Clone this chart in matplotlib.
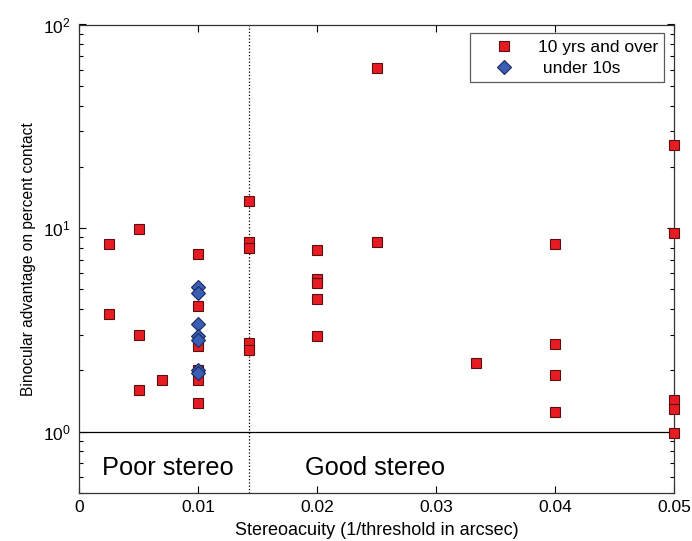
import matplotlib
matplotlib.use("Agg")
import matplotlib.pyplot as plt
from matplotlib.ticker import LogLocator, NullFormatter

plt.rcParams['font.family'] = ['Liberation Sans', 'DejaVu Sans']
plt.rcParams['mathtext.fontset'] = 'custom'
plt.rcParams['mathtext.rm'] = 'Liberation Sans'
plt.rcParams['mathtext.it'] = 'Liberation Sans:italic'
plt.rcParams['mathtext.bf'] = 'Liberation Sans:bold'

# 10 yrs and over (red squares)
older_x = [0.0025, 0.0025,
           0.005, 0.005, 0.005,
           0.007,
           0.01, 0.01, 0.01, 0.01, 0.01, 0.01, 0.01,
           1/70, 1/70, 1/70, 1/70, 1/70,
           0.02, 0.02, 0.02, 0.02, 0.02,
           0.025, 0.025,
           1/30,
           0.04, 0.04, 0.04, 0.04,
           0.05, 0.05, 0.05, 0.05, 0.05]
older_y = [8.38, 3.77,
           9.85, 3.0, 1.61,
           1.79,
           7.5, 4.14, 2.8, 2.63, 2.02, 1.8, 1.39,
           13.6, 8.54, 8.01, 2.74, 2.52,
           7.77, 5.6, 5.39, 4.5, 2.95,
           61.4, 8.58,
           2.18,
           8.35, 2.71, 1.89, 1.25,
           25.6, 9.5, 1.43, 1.29, 0.99]

# under 10s (blue diamonds)
young_x = [0.01, 0.01, 0.01, 0.01, 0.01, 0.01, 0.01]
young_y = [5.15, 4.78, 3.37, 2.95, 2.82, 2.0, 1.95]

cutoff = 1/70
xticks = [0, 0.01, 0.02, 0.03, 0.04, 0.05]
xticklabels = ["0", "0.01", "0.02", "0.03", "0.04", "0.05"]

fig = plt.figure(figsize=(6.92, 5.41), dpi=100)
ax = fig.add_axes([79/692, 1-493/541, (674-79)/692, (493-24.5)/541])

ax.set_yscale('log')
ax.set_xlim(0, 0.05)
ax.set_ylim(0.5, 100)

ax.axvline(cutoff, color='black', linestyle=':', linewidth=0.9, zorder=1)
ax.axhline(1.0, color='black', linestyle='-', linewidth=0.9, zorder=1)

ax.plot(older_x, older_y, linestyle='none', marker='s', markersize=7.3,
        markerfacecolor='#e61c22', markeredgecolor='#5a1010', markeredgewidth=0.8,
        label='10 yrs and over', zorder=3, clip_on=False)
ax.plot(young_x, young_y, linestyle='none', marker='D', markersize=6.8,
        markerfacecolor='#3a5db5', markeredgecolor='#1a2a60', markeredgewidth=0.8,
        label=' under 10s', zorder=4, clip_on=False)

ax.set_xticks(xticks)
ax.set_xticklabels(xticklabels)
ax.yaxis.set_major_locator(LogLocator(base=10))
ax.yaxis.set_minor_locator(LogLocator(base=10, subs=range(2, 10)))
ax.yaxis.set_minor_formatter(NullFormatter())

ax.tick_params(axis='both', which='major', direction='in', length=5, width=0.8,
               top=True, right=True, labelsize=12.5)
ax.tick_params(axis='x', which='major', pad=5)
ax.tick_params(axis='y', which='major', pad=6)
ax.tick_params(axis='y', which='minor', direction='in', length=3, width=0.8,
               left=True, right=True)
for s in ax.spines.values():
    s.set_linewidth(0.9)
    s.set_color('#333333')

ax.set_xlabel('Stereoacuity (1/threshold in arcsec)', fontsize=13, labelpad=5)
ax.set_ylabel('Binocular advantage on percent contact', fontsize=11.2, labelpad=5)

ax.text(0.0019, 0.665, 'Poor stereo', fontsize=18.3, va='center', ha='left')
ax.text(0.0190, 0.665, 'Good stereo', fontsize=18.3, va='center', ha='left')

leg = ax.legend(loc='upper right', bbox_to_anchor=(0.9835, 0.981), fontsize=12.5,
                frameon=True, fancybox=False, edgecolor='#333333',
                borderpad=0.35, handletextpad=0.35, labelspacing=0.34,
                borderaxespad=0.0, handlelength=3.2)
leg.get_frame().set_linewidth(0.9)

fig.savefig('out.png', dpi=100)
